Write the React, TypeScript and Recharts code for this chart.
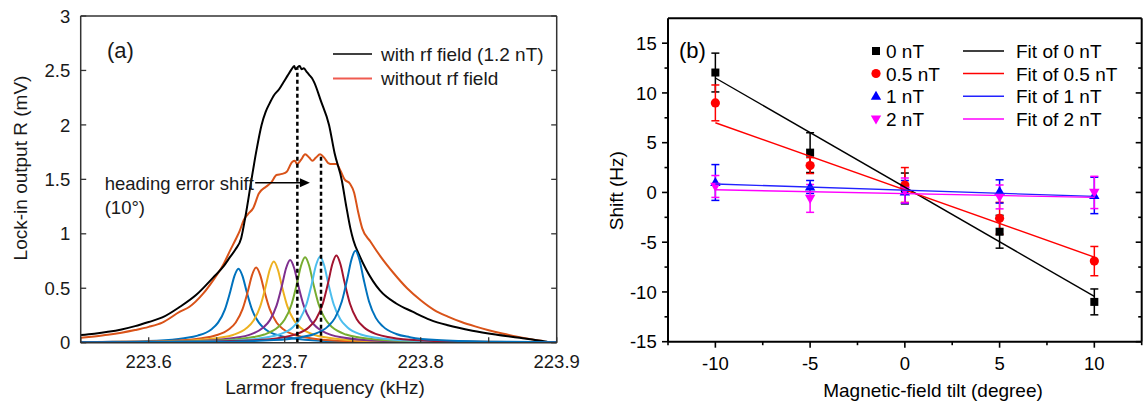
import React from 'react';
import {
  LineChart,
  Line,
  XAxis,
  YAxis,
  ReferenceLine,
  ReferenceDot,
  ComposedChart,
  Scatter,
  ErrorBar,
} from 'recharts';

const FONT = '"Liberation Sans", Arial, Helvetica, sans-serif';

// ---------------- Panel (a) data: [frequency kHz, lock-in output mV] ----------------
const withRf: [number, number][] = [
  [223.55, 0.07], [223.56, 0.083], [223.57, 0.1], [223.58, 0.122], [223.59, 0.152], [223.6, 0.19],
  [223.61, 0.232], [223.623, 0.33], [223.635, 0.44], [223.6475, 0.6], [223.655, 0.7], [223.66, 0.79],
  [223.664, 0.86], [223.668, 0.96], [223.671, 1.15], [223.6756, 1.5], [223.679, 1.75], [223.683, 2.0],
  [223.686, 2.12], [223.689, 2.2], [223.692, 2.27], [223.696, 2.33], [223.699, 2.39], [223.702, 2.45],
  [223.705, 2.51], [223.707, 2.54], [223.708, 2.51], [223.7095, 2.53], [223.711, 2.54], [223.7125, 2.51],
  [223.714, 2.52], [223.716, 2.49], [223.718, 2.46], [223.72, 2.43], [223.7217, 2.39], [223.7266, 2.22],
  [223.7326, 2.0], [223.7367, 1.74], [223.742, 1.49], [223.7453, 1.25], [223.7483, 1.05], [223.7505, 0.94],
  [223.755, 0.8], [223.76, 0.67], [223.77, 0.48], [223.782, 0.36], [223.794, 0.285], [223.807, 0.21],
  [223.82, 0.16], [223.838, 0.11], [223.855, 0.075], [223.871, 0.048], [223.882, 0.03], [223.893, 0.008],
];

const withoutRf: [number, number][] = [
  [223.55, 0.045], [223.56, 0.058], [223.57, 0.073], [223.58, 0.092], [223.59, 0.116], [223.6, 0.145],
  [223.61, 0.185], [223.623, 0.285], [223.63, 0.33], [223.64, 0.45], [223.6475, 0.575], [223.655, 0.72],
  [223.66, 0.85], [223.664, 0.95], [223.667, 1.03], [223.67, 1.13], [223.673, 1.18], [223.677, 1.24],
  [223.681, 1.37], [223.686, 1.43], [223.69, 1.47], [223.694, 1.54], [223.698, 1.55], [223.7015, 1.57],
  [223.7055, 1.66], [223.7075, 1.67], [223.709, 1.64], [223.712, 1.68], [223.715, 1.73], [223.718, 1.7],
  [223.7204, 1.67], [223.723, 1.7], [223.726, 1.73], [223.729, 1.7], [223.732, 1.65], [223.735, 1.64],
  [223.738, 1.64], [223.741, 1.58], [223.744, 1.5], [223.748, 1.46], [223.751, 1.38], [223.754, 1.2],
  [223.757, 1.05], [223.763, 0.93], [223.77, 0.8], [223.78, 0.64], [223.79, 0.5], [223.8, 0.39],
  [223.81, 0.3], [223.82, 0.24], [223.83, 0.19], [223.84, 0.15], [223.85, 0.115], [223.86, 0.085],
  [223.87, 0.058], [223.88, 0.035], [223.89, 0.015],
];

const peak1: [number, number][] = [
  [223.55, 0.005], [223.566, 0.0075], [223.606, 0.019], [223.626, 0.041], [223.636, 0.065], [223.646, 0.122],
  [223.651, 0.184], [223.656, 0.304], [223.66, 0.471], [223.663, 0.612], [223.666, 0.68], [223.669, 0.612],
  [223.672, 0.471], [223.676, 0.304], [223.681, 0.184], [223.686, 0.122], [223.696, 0.065], [223.706, 0.041],
  [223.726, 0.019], [223.766, 0.0075], [223.9, 0.002],
];
const peak2: [number, number][] = [
  [223.55, 0.005], [223.579, 0.0076], [223.619, 0.019], [223.639, 0.041], [223.649, 0.066], [223.659, 0.124],
  [223.664, 0.186], [223.669, 0.308], [223.673, 0.477], [223.676, 0.621], [223.679, 0.69], [223.682, 0.621],
  [223.685, 0.477], [223.689, 0.308], [223.694, 0.186], [223.699, 0.124], [223.709, 0.066], [223.719, 0.041],
  [223.739, 0.019], [223.779, 0.0076], [223.9, 0.002],
];
const peak3: [number, number][] = [
  [223.55, 0.004], [223.592, 0.008], [223.632, 0.021], [223.652, 0.045], [223.662, 0.071], [223.672, 0.134],
  [223.677, 0.201], [223.682, 0.333], [223.686, 0.516], [223.689, 0.67], [223.692, 0.745], [223.695, 0.67],
  [223.698, 0.516], [223.702, 0.333], [223.707, 0.201], [223.712, 0.134], [223.722, 0.071], [223.732, 0.045],
  [223.752, 0.021], [223.792, 0.008], [223.9, 0.002],
];
const peak4: [number, number][] = [
  [223.55, 0.004], [223.604, 0.008], [223.644, 0.021], [223.664, 0.046], [223.674, 0.072], [223.684, 0.137],
  [223.689, 0.205], [223.694, 0.34], [223.698, 0.526], [223.701, 0.684], [223.704, 0.76], [223.707, 0.684],
  [223.71, 0.526], [223.714, 0.34], [223.719, 0.205], [223.724, 0.137], [223.734, 0.072], [223.744, 0.046],
  [223.764, 0.021], [223.804, 0.008], [223.9, 0.003],
];
const peak5: [number, number][] = [
  [223.55, 0.004], [223.615, 0.009], [223.655, 0.022], [223.675, 0.047], [223.685, 0.075], [223.695, 0.141],
  [223.7, 0.212], [223.705, 0.351], [223.709, 0.543], [223.712, 0.707], [223.715, 0.785], [223.718, 0.707],
  [223.721, 0.543], [223.725, 0.351], [223.73, 0.212], [223.735, 0.141], [223.745, 0.075], [223.755, 0.047],
  [223.775, 0.022], [223.815, 0.009], [223.9, 0.003],
];
const peak6: [number, number][] = [
  [223.55, 0.003], [223.626, 0.009], [223.666, 0.022], [223.686, 0.047], [223.696, 0.075], [223.706, 0.142],
  [223.711, 0.213], [223.716, 0.353], [223.72, 0.547], [223.723, 0.711], [223.726, 0.79], [223.729, 0.711],
  [223.732, 0.547], [223.736, 0.353], [223.741, 0.213], [223.746, 0.142], [223.756, 0.075], [223.766, 0.047],
  [223.786, 0.022], [223.826, 0.009], [223.9, 0.004],
];
const peak7: [number, number][] = [
  [223.55, 0.003], [223.638, 0.009], [223.678, 0.022], [223.698, 0.048], [223.708, 0.076], [223.718, 0.144],
  [223.723, 0.216], [223.728, 0.358], [223.732, 0.554], [223.735, 0.72], [223.738, 0.8], [223.741, 0.72],
  [223.744, 0.554], [223.748, 0.358], [223.753, 0.216], [223.758, 0.144], [223.768, 0.076], [223.778, 0.048],
  [223.798, 0.022], [223.838, 0.009], [223.9, 0.004],
];
const peak8: [number, number][] = [
  [223.55, 0.003], [223.652, 0.009], [223.692, 0.024], [223.712, 0.051], [223.722, 0.08], [223.732, 0.152],
  [223.737, 0.228], [223.742, 0.378], [223.746, 0.585], [223.749, 0.76], [223.752, 0.845], [223.755, 0.76],
  [223.758, 0.585], [223.762, 0.378], [223.767, 0.228], [223.772, 0.152], [223.782, 0.08], [223.792, 0.051],
  [223.812, 0.024], [223.852, 0.009], [223.9, 0.004],
];
const peaks = [peak1, peak2, peak3, peak4, peak5, peak6, peak7, peak8];
const peakColors = ['#0072BD', '#D95319', '#EDB120', '#7E2F8E', '#77AC30', '#4DBEEE', '#A2142F', '#0072BD'];

const aXTicks = [223.55, 223.6, 223.65, 223.7, 223.75, 223.8, 223.85, 223.9];
const aXTickLabels = ['', '223.6', '', '223.7', '', '223.8', '', '223.9'];
const aYTicks = [0, 0.5, 1, 1.5, 2, 2.5, 3];
const aYTickLabels = ['0', '0.5', '1', '1.5', '2', '2.5', '3'];

// heading error shift markers
const dashX = [223.7093, 223.7267];
const dashTop = [2.52, 1.73];
const arrowFrom = 223.6783;
const arrowTo = 223.7185;
const arrowY = 1.469;

// ---------------- Panel (b) data ----------------
const tilt = [-10, -5, 0, 5, 10];
const shift0 = [12.05, 4.0, 0.4, -3.95, -11.0];
const err0 = [1.95, 2.0, 1.55, 1.65, 1.3];
const shift05 = [9.0, 2.7, 0.75, -2.6, -6.9];
const err05 = [1.8, 0.8, 1.75, 1.6, 1.47];
const shift1 = [1.0, 0.55, 0.05, 0.1, -0.3];
const err1 = [1.8, 0.65, 1.15, 1.17, 1.83];
const shift2 = [0.6, -0.6, 0.2, -0.45, 0.0];
const err2 = [1.1, 1.4, 1.25, 1.2, 1.62];

const fitTilt = [-10, 10];
const fit0 = [11.5, -10.45];
const fit05 = [7.0, -6.5];
const fit1 = [0.85, -0.4];
const fit2 = [0.27, -0.5];

const bXTicks = [-12.5, -10, -7.5, -5, -2.5, 0, 2.5, 5, 7.5, 10, 12.5];
const bXTickLabels = ['', '-10', '', '-5', '', '0', '', '5', '', '10', ''];
const bYTicks = [-15, -12.5, -10, -7.5, -5, -2.5, 0, 2.5, 5, 7.5, 10, 12.5, 15];
const bYTickLabels = ['-15', '', '-10', '', '-5', '', '0', '', '5', '', '10', '', '15'];

// ---------------- layout ----------------
const A = { w: 580, h: 404, left: 80.7, right: 556.7, top: 16, bottom: 342.7 };
const B = { x0: 580, w: 565, h: 404, left: 88, right: 561.7, top: 18.3, bottom: 341.7 };

const toPts = (arr: [number, number][]) => arr.map(([f, v]) => ({ f, v }));

// ---- panel a ticks (inward) ----
const aTickBottom = (p: any) => {
  const lab = aXTickLabels[p.index];
  return (
    <g>
      <line x1={p.x} x2={p.x} y1={A.bottom} y2={A.bottom - 5.5} stroke="#333" strokeWidth={1.3} />
      {lab ? (
        <text x={p.x} y={A.bottom + 25.3} textAnchor="middle" fontSize={18.5} fontFamily={FONT} fill="#1a1a1a">
          {lab}
        </text>
      ) : null}
    </g>
  );
};
const aTickTop = (p: any) => (
  <line x1={p.x} x2={p.x} y1={A.top} y2={A.top + 5.5} stroke="#333" strokeWidth={1.3} />
);
const aTickLeft = (p: any) => {
  const lab = aYTickLabels[p.index];
  return (
    <g>
      <line x1={A.left} x2={A.left + 5.5} y1={p.y} y2={p.y} stroke="#333" strokeWidth={1.3} />
      <text x={A.left - 10.5} y={p.y + 6.6} textAnchor="end" fontSize={18.5} fontFamily={FONT} fill="#1a1a1a">
        {lab}
      </text>
    </g>
  );
};
const aTickRight = (p: any) => (
  <line x1={A.right} x2={A.right - 5.5} y1={p.y} y2={p.y} stroke="#333" strokeWidth={1.3} />
);

// ---- panel b ticks ----
const bTickBottom = (p: any) => {
  const lab = bXTickLabels[p.index];
  const len = lab ? 6 : 3.5;
  return (
    <g>
      <line x1={p.x} x2={p.x} y1={B.bottom} y2={B.bottom + len} stroke="#000" strokeWidth={1.6} />
      {lab ? (
        <text x={p.x} y={B.bottom + 28.3} textAnchor="middle" fontSize={18.5} fontFamily={FONT} fill="#000">
          {lab}
        </text>
      ) : null}
    </g>
  );
};
const bTickTop = (p: any) => {
  const len = bXTickLabels[p.index] ? 6 : 3.5;
  return <line x1={p.x} x2={p.x} y1={B.top} y2={B.top + len} stroke="#000" strokeWidth={1.6} />;
};
const bTickLeft = (p: any) => {
  const lab = bYTickLabels[p.index];
  const len = lab ? 6 : 3.5;
  return (
    <g>
      <line x1={B.left} x2={B.left - len} y1={p.y} y2={p.y} stroke="#000" strokeWidth={1.6} />
      {lab ? (
        <text x={B.left - 11.3} y={p.y + 6.6} textAnchor="end" fontSize={18.5} fontFamily={FONT} fill="#000">
          {lab}
        </text>
      ) : null}
    </g>
  );
};
const bTickRight = (p: any) => {
  const len = bYTickLabels[p.index] ? 6 : 3.5;
  return <line x1={B.right} x2={B.right - len} y1={p.y} y2={p.y} stroke="#000" strokeWidth={1.6} />;
};

// ---- scatter shapes ----
const squareShape = (p: any) => <rect x={p.cx - 4} y={p.cy - 4} width={8} height={8} fill="#000" />;
const circleShape = (p: any) => <circle cx={p.cx} cy={p.cy} r={4.6} fill="#ff0000" />;
const triUpShape = (p: any) => (
  <path d={`M${p.cx},${p.cy - 5.5} L${p.cx + 5.2},${p.cy + 3.6} L${p.cx - 5.2},${p.cy + 3.6} Z`} fill="#0000ff" />
);
const triDownShape = (p: any) => (
  <path d={`M${p.cx},${p.cy + 5.5} L${p.cx + 5.2},${p.cy - 3.6} L${p.cx - 5.2},${p.cy - 3.6} Z`} fill="#ff00ff" />
);
const noShape = () => <g />;

const mkPts = (ys: number[], es: number[]) => tilt.map((x, i) => ({ x, y: ys[i], e: es[i] }));
const mkFit = (ys: number[]) => fitTilt.map((x, i) => ({ x, y: ys[i] }));

const series = [
  { name: '0 nT', pts: mkPts(shift0, err0), color: '#000000', shape: squareShape },
  { name: '0.5 nT', pts: mkPts(shift05, err05), color: '#ff0000', shape: circleShape },
  { name: '1 nT', pts: mkPts(shift1, err1), color: '#0000ff', shape: triUpShape },
  { name: '2 nT', pts: mkPts(shift2, err2), color: '#ff00ff', shape: triDownShape },
];
const fits = [
  { name: 'Fit of 0 nT', pts: mkFit(fit0), color: '#000000' },
  { name: 'Fit of 0.5 nT', pts: mkFit(fit05), color: '#ff0000' },
  { name: 'Fit of 1 nT', pts: mkFit(fit1), color: '#2222ff' },
  { name: 'Fit of 2 nT', pts: mkFit(fit2), color: '#ff00ff' },
];

const legendRowsB = [51, 73.5, 96.2, 119];

export default function App() {
  return (
    <div style={{ position: 'absolute', left: 0, top: 0, width: 1145, height: 404, background: '#fff', fontFamily: FONT }}>
      {/* Panel (a) */}
      <div style={{ position: 'absolute', left: 0, top: 0 }}>
        <LineChart
          width={A.w}
          height={A.h}
          margin={{ top: A.top, right: A.w - A.right, bottom: A.h - A.bottom - 1, left: A.left - 1 }}
        >
          <XAxis
            type="number"
            dataKey="f"
            domain={[223.55, 223.9]}
            ticks={aXTicks}
            interval={0}
            allowDataOverflow
            height={1}
            tickSize={0}
            tickMargin={0}
            tickLine={false}
            tick={aTickBottom}
            axisLine={{ stroke: '#333', strokeWidth: 1.5 }}
          />
          <XAxis
            xAxisId="t"
            orientation="top"
            mirror
            type="number"
            domain={[223.55, 223.9]}
            ticks={aXTicks}
            interval={0}
            allowDataOverflow
            height={1}
            tickSize={0}
            tickMargin={0}
            tickLine={false}
            tick={aTickTop}
            axisLine={{ stroke: '#333', strokeWidth: 1.5 }}
          />
          <YAxis
            type="number"
            domain={[0, 3]}
            ticks={aYTicks}
            interval={0}
            allowDataOverflow
            width={1}
            tickSize={0}
            tickMargin={0}
            tickLine={false}
            tick={aTickLeft}
            axisLine={{ stroke: '#333', strokeWidth: 1.5 }}
          />
          <YAxis
            yAxisId="r"
            orientation="right"
            mirror
            type="number"
            domain={[0, 3]}
            ticks={aYTicks}
            interval={0}
            allowDataOverflow
            width={1}
            tickSize={0}
            tickMargin={0}
            tickLine={false}
            tick={aTickRight}
            axisLine={{ stroke: '#333', strokeWidth: 1.5 }}
          />
          <Line
            data={toPts(withoutRf)}
            dataKey="v"
            type="monotone"
            stroke="#D95319"
            strokeWidth={2}
            dot={false}
            activeDot={false}
            isAnimationActive={false}
          />
          <Line
            data={toPts(withRf)}
            dataKey="v"
            type="monotone"
            stroke="#000000"
            strokeWidth={2}
            dot={false}
            activeDot={false}
            isAnimationActive={false}
          />
          {peaks.map((pk, i) => (
            <Line
              key={i}
              data={toPts(pk)}
              dataKey="v"
              type="monotone"
              stroke={peakColors[i]}
              strokeWidth={2}
              dot={false}
              activeDot={false}
              isAnimationActive={false}
            />
          ))}
          {dashX.map((x, i) => (
            <ReferenceLine
              key={'d' + i}
              segment={[
                { x, y: 0 },
                { x, y: dashTop[i] },
              ]}
              stroke="#000"
              strokeWidth={2.5}
              strokeDasharray="4 3"
            />
          ))}
          <ReferenceLine
            segment={[
              { x: arrowFrom, y: arrowY },
              { x: arrowTo - 0.004, y: arrowY },
            ]}
            stroke="#000"
            strokeWidth={1.3}
          />
          <ReferenceDot
            x={arrowTo}
            y={arrowY}
            r={0}
            shape={(p: any) => (
              <path d={`M${p.cx},${p.cy} L${p.cx - 10},${p.cy - 4.5} L${p.cx - 10},${p.cy + 4.5} Z`} fill="#000" />
            )}
          />
        </LineChart>
      </div>

      {/* Panel (b) */}
      <div style={{ position: 'absolute', left: B.x0, top: 0 }}>
        <ComposedChart
          width={B.w}
          height={B.h}
          margin={{ top: B.top, right: B.w - B.right, bottom: B.h - B.bottom - 1, left: B.left - 1 }}
        >
          <XAxis
            type="number"
            dataKey="x"
            domain={[-12.5, 12.5]}
            ticks={bXTicks}
            interval={0}
            allowDataOverflow
            height={1}
            tickSize={0}
            tickMargin={0}
            tickLine={false}
            tick={bTickBottom}
            axisLine={{ stroke: '#000', strokeWidth: 2 }}
          />
          <XAxis
            xAxisId="t"
            orientation="top"
            mirror
            type="number"
            domain={[-12.5, 12.5]}
            ticks={bXTicks}
            interval={0}
            allowDataOverflow
            height={1}
            tickSize={0}
            tickMargin={0}
            tickLine={false}
            tick={bTickTop}
            axisLine={{ stroke: '#000', strokeWidth: 2 }}
          />
          <YAxis
            type="number"
            dataKey="y"
            domain={[-15, 17.5]}
            ticks={bYTicks}
            interval={0}
            allowDataOverflow
            width={1}
            tickSize={0}
            tickMargin={0}
            tickLine={false}
            tick={bTickLeft}
            axisLine={{ stroke: '#000', strokeWidth: 2 }}
          />
          <YAxis
            yAxisId="r"
            orientation="right"
            mirror
            type="number"
            domain={[-15, 17.5]}
            ticks={bYTicks}
            interval={0}
            allowDataOverflow
            width={1}
            tickSize={0}
            tickMargin={0}
            tickLine={false}
            tick={bTickRight}
            axisLine={{ stroke: '#000', strokeWidth: 2 }}
          />
          {series.map((s, i) => (
            <Scatter key={'s' + i} name={s.name} data={s.pts} shape={s.shape} isAnimationActive={false}>
              <ErrorBar dataKey="e" direction="y" width={4} stroke={s.color} strokeWidth={1.5} />
            </Scatter>
          ))}
          {fits.map((f, i) => (
            <Scatter
              key={'f' + i}
              name={f.name}
              data={f.pts}
              line={{ stroke: f.color, strokeWidth: 1.4 }}
              lineType="joint"
              shape={noShape}
              isAnimationActive={false}
            />
          ))}
        </ComposedChart>
      </div>

      {/* Text, legends and panel letters */}
      <svg
        width={1145}
        height={404}
        style={{ position: 'absolute', left: 0, top: 0, pointerEvents: 'none' }}
        fontFamily={FONT}
      >
        {/* panel a */}
        <text x={107} y={58} fontSize={22} fill="#1a1a1a">(a)</text>
        <line x1={333} x2={372} y1={54} y2={54} stroke="#000" strokeWidth={1.5} />
        <text x={381} y={61} fontSize={19} fill="#1a1a1a">with rf field (1.2 nT)</text>
        <line x1={333} x2={372} y1={78.5} y2={78.5} stroke="#EF5B50" strokeWidth={2} />
        <text x={381} y={85.3} fontSize={19} fill="#1a1a1a">without rf field</text>
        <text x={104.7} y={189.5} fontSize={18.5} fill="#1a1a1a">heading error shift</text>
        <text x={104.7} y={213.5} fontSize={18.5} fill="#1a1a1a">(10°)</text>
        <text x={325} y={394} fontSize={19} textAnchor="middle" fill="#1a1a1a">Larmor frequency (kHz)</text>
        <text transform="translate(27,168) rotate(-90)" fontSize={19} textAnchor="middle" fill="#1a1a1a">
          Lock-in output R (mV)
        </text>

        {/* panel b */}
        <text x={679} y={58} fontSize={22} fill="#000">(b)</text>
        <text x={933} y={396.5} fontSize={19} textAnchor="middle" fill="#000">Magnetic-field tilt (degree)</text>
        <text transform="translate(623,190.7) rotate(-90)" fontSize={19} textAnchor="middle" fill="#000">
          Shift (Hz)
        </text>
        {series.map((s, i) => {
          const cy = legendRowsB[i];
          return (
            <g key={'lg' + i}>
              {s.shape({ cx: 876, cy })}
              <text x={886} y={cy + 7} fontSize={19} fill="#000">{s.name}</text>
            </g>
          );
        })}
        {fits.map((f, i) => {
          const cy = legendRowsB[i];
          return (
            <g key={'lf' + i}>
              <line x1={963} x2={1004} y1={cy} y2={cy} stroke={f.color} strokeWidth={1.5} />
              <text x={1016} y={cy + 7} fontSize={19} fill="#000">{f.name}</text>
            </g>
          );
        })}
      </svg>
    </div>
  );
}
